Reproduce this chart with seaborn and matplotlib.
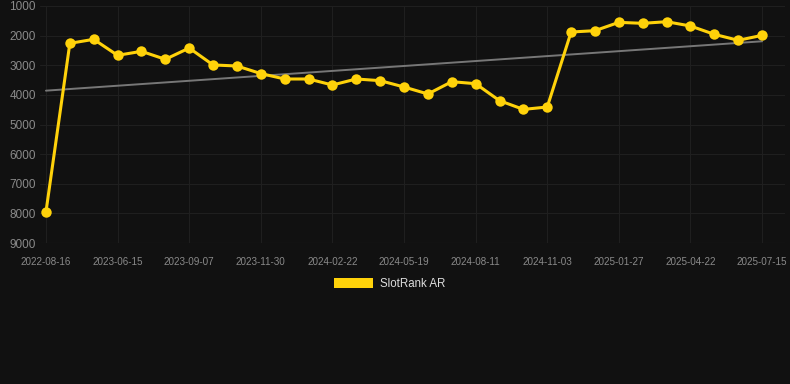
import numpy as np
import pandas as pd
import matplotlib
matplotlib.use('Agg')
import matplotlib.pyplot as plt
import seaborn as sns
from matplotlib.patches import Patch

# Dados
datas = ['2022-08-16', '2023-04-20', '2023-05-18', '2023-06-15', '2023-07-13',
         '2023-08-10', '2023-09-07', '2023-10-05', '2023-11-02', '2023-11-30',
         '2023-12-28', '2024-01-25', '2024-02-22', '2024-03-21', '2024-04-18',
         '2024-05-19', '2024-06-16', '2024-07-14', '2024-08-11', '2024-09-08',
         '2024-10-06', '2024-11-03', '2024-12-01', '2024-12-29', '2025-01-27',
         '2025-02-24', '2025-03-25', '2025-04-22', '2025-05-20', '2025-06-17',
         '2025-07-15']
rank = [7950, 2260, 2125, 2665, 2530, 2800, 2418, 2990, 3025, 3280,
        3464, 3464, 3667, 3464, 3520, 3734, 3970, 3555, 3622, 4195,
        4490, 4410, 1878, 1833, 1552, 1585, 1530, 1675, 1957, 2158,
        1991]
y_ticks = [1000, 2000, 3000, 4000, 5000, 6000, 7000, 8000, 9000]
serie_nome = 'SlotRank AR'

df = pd.DataFrame({'pos': np.arange(len(datas)), 'data': datas, 'rank': rank})

# tendência linear
coef = np.polyfit(df['pos'], df['rank'], 1)
df['trend'] = np.polyval(coef, df['pos'])

# Estilo
sns.set_theme(style='dark', rc={
    'figure.facecolor': '#111111',
    'axes.facecolor': '#111111',
    'axes.edgecolor': '#111111',
    'grid.color': '#1f1f1f',
})
plt.rcParams['font.family'] = ['Liberation Sans', 'DejaVu Sans']

fig = plt.figure(figsize=(7.9, 3.84), dpi=100)
ax = fig.add_axes([40 / 790, 1 - 243 / 384, 745 / 790, 237 / 384])

sns.lineplot(data=df, x='pos', y='trend', ax=ax, color='#777777', linewidth=1.4, zorder=2)
sns.lineplot(data=df, x='pos', y='rank', ax=ax, color='#FFD20A', linewidth=2.2,
             marker='o', markersize=7.5, markeredgewidth=0, zorder=3)

ax.set_xlim(-0.25, 30.96)
ax.set_ylim(9000, 1000)
ax.set_yticks(y_ticks)
ax.set_yticklabels([str(v) for v in y_ticks], fontsize=8.5, color='#8a8a8a')
tick_pos = list(range(0, len(datas), 3))
ax.set_xticks(tick_pos)
ax.set_xticklabels([datas[i] for i in tick_pos], fontsize=7.1, color='#8a8a8a')
ax.tick_params(axis='x', length=0, pad=10)
ax.tick_params(axis='y', length=0, pad=3)
ax.grid(True, color='#1f1f1f', linewidth=0.8)
ax.axhline(9000, color='#2a2a2a', linewidth=0.8)
ax.set_xlabel('')
ax.set_ylabel('')
for s in ax.spines.values():
    s.set_visible(False)

handle = Patch(facecolor='#FFD20A', edgecolor='none', label=serie_nome)
fig.legend(handles=[handle], loc='center', bbox_to_anchor=(390 / 790, 1 - 284 / 384),
           frameon=False, fontsize=8.3, labelcolor='#dddddd',
           handlelength=3.4, handleheight=1.0, handletextpad=0.6)

fig.savefig('out.png', dpi=100, facecolor='#111111')
